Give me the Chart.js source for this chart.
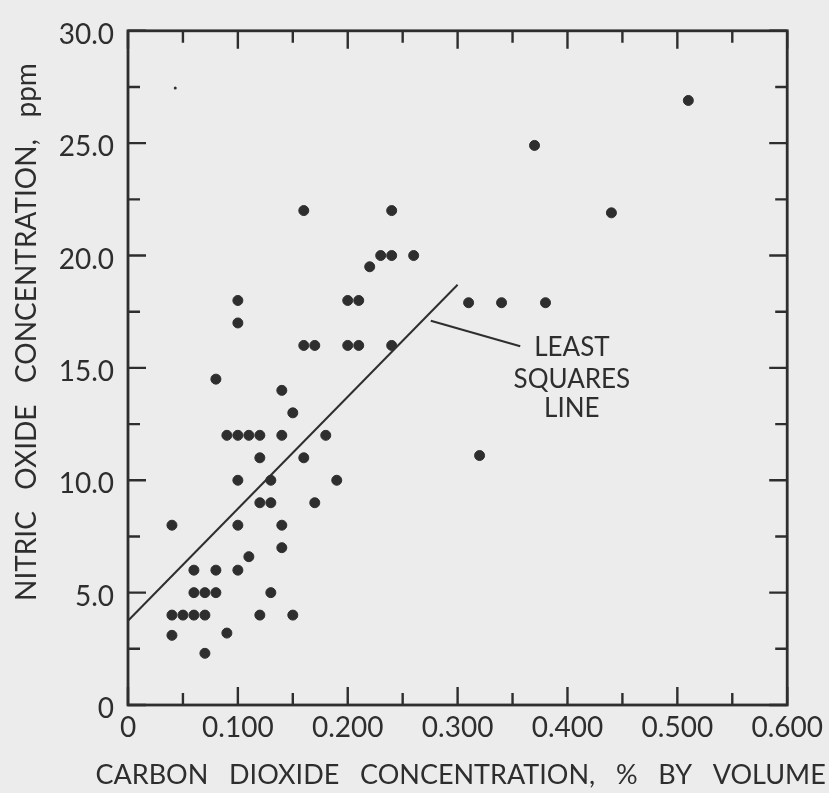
<!DOCTYPE html>
<html>
<head>
<meta charset="utf-8">
<script src="https://cdn.jsdelivr.net/npm/chart.js@4.4.1/dist/chart.umd.min.js"></script>
<style>
html, body { margin: 0; padding: 0; background: #ececec; }
</style>
</head>
<body>
<canvas id="noChart" width="829" height="793"></canvas>
<script>
// Measured points (CO2 % by volume, NO ppm)
var co2 = [0.16, 0.24, 0.22, 0.23, 0.24, 0.26,
    0.10, 0.20, 0.21, 0.10,
    0.16, 0.17, 0.20, 0.21, 0.24,
    0.08, 0.14, 0.15,
    0.09, 0.10, 0.11, 0.12, 0.14, 0.18,
    0.12, 0.16,
    0.10, 0.13, 0.19,
    0.12, 0.13, 0.17,
    0.04, 0.10, 0.14,
    0.14, 0.11,
    0.06, 0.08, 0.10,
    0.06, 0.07, 0.08, 0.13,
    0.04, 0.05, 0.06, 0.07, 0.12, 0.15,
    0.04, 0.09, 0.07,
    0.51, 0.37, 0.44, 0.31, 0.34, 0.38, 0.32];
var no = [22, 22, 19.5, 20, 20, 20,
    18, 18, 18, 17,
    16, 16, 16, 16, 16,
    14.5, 14, 13,
    12, 12, 12, 12, 12, 12,
    11, 11,
    10, 10, 10,
    9, 9, 9,
    8, 8, 8,
    7, 6.6,
    6, 6, 6,
    5, 5, 5, 5,
    4, 4, 4, 4, 4, 4,
    3.1, 3.2, 2.3,
    26.9, 24.9, 21.9, 17.9, 17.9, 17.9, 11.1];

// small speck near the top left
var speckX = [0.043];
var speckY = [27.45];

// least squares line and its pointer
var fitX = [0, 0.3];
var fitY = [3.75, 18.7];
var pointerX = [0.2756, 0.357];
var pointerY = [17.1, 15.96];

var noteText = ['LEAST', 'SQUARES', 'LINE'];
var noteX = 0.404;
var noteY = [15.9, 14.5, 13.2];

var xTickValues = [0, 0.1, 0.2, 0.3, 0.4, 0.5, 0.6];
var xTickLabels = ['0', '0.100', '0.200', '0.300', '0.400', '0.500', '0.600'];
var yTickValues = [0, 5, 10, 15, 20, 25, 30];
var yTickLabels = ['0', '5.0', '10.0', '15.0', '20.0', '25.0', '30.0'];

var xTitle = 'CARBON   DIOXIDE   CONCENTRATION,   %   BY   VOLUME';
var yTitle = '          NITRIC   OXIDE   CONCENTRATION,   ppm';

var ink = '#2e2e2e';
var fontName = 'Lato';

function pairs(xs, ys)
{
    return xs.map(function (x, i) { return { x: x, y: ys[i] }; });
}

function findTick(values, v)
{
    for (var i = 0; i < values.length; i++)
    {
        if (Math.abs(values[i] - v) < 1e-6) return i;
    }
    return -1;
}

// Frame, inward ticks, x title and the note
var frame = {
    id: 'frame',
    afterDraw: function (chart)
    {
        var ctx = chart.ctx;
        var a = chart.chartArea;
        var xs = chart.scales.x;
        var ys = chart.scales.y;
        ctx.save();
        ctx.strokeStyle = ink;
        ctx.lineWidth = 2.8;
        ctx.strokeRect(a.left, a.top, a.right - a.left, a.bottom - a.top);

        ctx.lineWidth = 2.4;
        ctx.beginPath();
        xs.ticks.forEach(function (t)
        {
            var px = xs.getPixelForValue(t.value);
            var len = findTick(xTickValues, t.value) >= 0 ? 18 : 12;
            ctx.moveTo(px, a.bottom);
            ctx.lineTo(px, a.bottom - len);
            ctx.moveTo(px, a.top);
            ctx.lineTo(px, a.top + len);
        });
        ys.ticks.forEach(function (t)
        {
            var py = ys.getPixelForValue(t.value);
            var len = findTick(yTickValues, t.value) >= 0 ? 18 : 12;
            ctx.moveTo(a.left, py);
            ctx.lineTo(a.left + len, py);
            ctx.moveTo(a.right, py);
            ctx.lineTo(a.right - len, py);
        });
        ctx.stroke();

        ctx.fillStyle = ink;
        ctx.textAlign = 'center';
        ctx.textBaseline = 'middle';
        ctx.font = '26px ' + fontName;
        noteText.forEach(function (s, i)
        {
            ctx.fillText(s, xs.getPixelForValue(noteX), ys.getPixelForValue(noteY[i]));
        });

        // x title is wider than the plot, so it is drawn here
        ctx.font = '27px ' + fontName;
        ctx.fillText(xTitle, (a.left + a.right) / 2 + 3, a.bottom + 70);
        ctx.restore();
    }
};

var ctx = document.getElementById('noChart').getContext('2d');
var myChart = new Chart(ctx,
{
    type: 'scatter',
    data:
    {
        datasets: [
        {
            data: pairs(co2, no),
            backgroundColor: ink,
            borderColor: ink,
            pointRadius: 5,
            borderWidth: 1
        },
        {
            data: pairs(speckX, speckY),
            backgroundColor: ink,
            borderColor: ink,
            pointRadius: 1.5,
            borderWidth: 0
        },
        {
            type: 'line',
            data: pairs(fitX, fitY),
            borderColor: ink,
            borderWidth: 2,
            pointRadius: 0,
            fill: false
        },
        {
            type: 'line',
            data: pairs(pointerX, pointerY),
            borderColor: ink,
            borderWidth: 2,
            pointRadius: 0,
            fill: false
        }]
    },
    options:
    {
        responsive: false,
        animation: false,
        layout: { padding: { top: 18, right: 40, left: 0, bottom: 0 } },
        plugins:
        {
            legend: { display: false },
            tooltip: { enabled: false }
        },
        scales:
        {
            x:
            {
                type: 'linear',
                min: 0,
                max: 0.6,
                afterFit: function (s) { s.height = 88; },
                grid: { display: false, drawTicks: false },
                border: { display: false },
                ticks:
                {
                    stepSize: 0.05,
                    autoSkip: false,
                    maxRotation: 0,
                    padding: 6,
                    color: ink,
                    font: { family: fontName, size: 28 },
                    callback: function (v)
                    {
                        var i = findTick(xTickValues, v);
                        return i >= 0 ? xTickLabels[i] : '';
                    }
                },
                title: { display: false }
            },
            y:
            {
                type: 'linear',
                min: 0,
                max: 30,
                afterFit: function (s) { s.width = 128; },
                grid: { display: false, drawTicks: false },
                border: { display: false },
                ticks:
                {
                    stepSize: 2.5,
                    autoSkip: false,
                    padding: 14,
                    labelOffset: 4,
                    color: ink,
                    font: { family: fontName, size: 28 },
                    callback: function (v)
                    {
                        var i = findTick(yTickValues, v);
                        return i >= 0 ? yTickLabels[i] : '';
                    }
                },
                title:
                {
                    display: true,
                    text: yTitle,
                    color: ink,
                    font: { family: fontName, size: 28 },
                    padding: { top: 10, bottom: 0 }
                }
            }
        }
    },
    plugins: [frame]
});
</script>
</body>
</html>
